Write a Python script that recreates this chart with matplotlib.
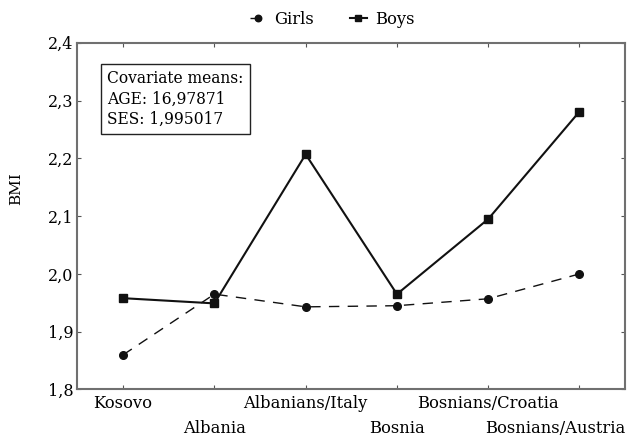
import matplotlib
matplotlib.use("Agg")
import matplotlib.pyplot as plt

plt.rcParams['font.family'] = ['DejaVu Serif']

groups = ['Kosovo', 'Albania', 'Albanians/Italy', 'Bosnia',
          'Bosnians/Croatia', 'Bosnians/Austria']
girls = [1.860, 1.965, 1.943, 1.945, 1.957, 2.000]
boys = [1.958, 1.949, 2.207, 1.965, 2.095, 2.281]
y_ticks = [1.8, 1.9, 2.0, 2.1, 2.2, 2.3, 2.4]
y_labels = ['1,8', '1,9', '2,0', '2,1', '2,2', '2,3', '2,4']
note = 'Covariate means:\nAGE: 16,97871\nSES: 1,995017'

fig = plt.figure(figsize=(6.27, 4.36), dpi=100)
ax = fig.add_axes([0.1236, 0.1067, 0.8734, 0.7951])

x = list(range(len(groups)))
ax.plot(x, girls, color='#111111', lw=1.0, ls=(0, (7.5, 6)),
        marker='o', ms=5.5, label='Girls')
ax.plot(x, boys, color='#111111', lw=1.5, ls='-',
        marker='s', ms=5.5, label='Boys')

ax.set_xlim(-0.5, 5.5)
ax.set_ylim(1.8, 2.4)
ax.set_yticks(y_ticks)
ax.set_yticklabels(y_labels, fontsize=11.5)
ax.set_xticks(x)
ax.set_xticklabels([])

# category labels in two staggered rows; the last one is kept inside the figure
for i, g in enumerate(groups):
    dy = -10.4 if i % 2 == 0 else -28.4
    if i == len(groups) - 1:
        ax.annotate(g, xy=(1.0, 0), xycoords='axes fraction',
                    xytext=(0, dy), textcoords='offset points',
                    ha='right', va='center', fontsize=11.8)
    else:
        ax.annotate(g, xy=(i, 0), xycoords=('data', 'axes fraction'),
                    xytext=(0, dy), textcoords='offset points',
                    ha='center', va='center', fontsize=11.8)

ax.tick_params(direction='in', length=3, width=0.8, color='#555555',
               top=True, right=True, pad=3)
for s in ax.spines.values():
    s.set_color('#707070')
    s.set_linewidth(1.5)

ax.set_ylabel('BMI', fontsize=11)
ax.yaxis.set_label_coords(-0.0986, 0.58)

ax.text(0.054, 0.921, note, transform=ax.transAxes, fontsize=11.2,
        va='top', ha='left', linespacing=1.25,
        bbox=dict(boxstyle='square,pad=0.4', fc='white', ec='#222222', lw=1.0))

ax.legend(loc='center', bbox_to_anchor=(0.465, 1.067), ncol=2, frameon=False,
          fontsize=11.8, handlelength=1.0, columnspacing=2.2, handletextpad=0.5,
          markerscale=0.85)

fig.savefig('out.png', dpi=100)
